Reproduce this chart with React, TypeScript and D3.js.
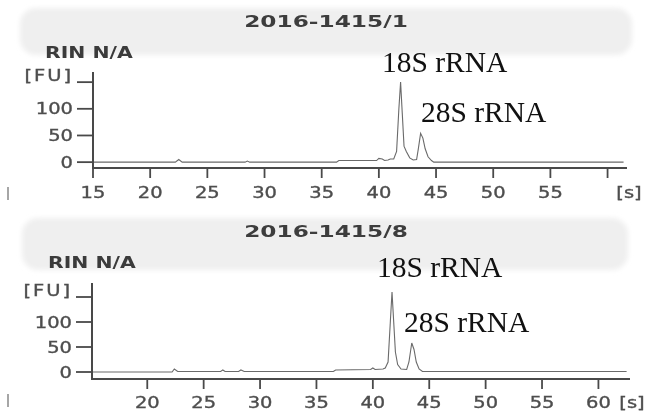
import React from "react";
import * as d3 from "d3";

// ---- data ----
const topTitle = "2016-1415/1";
const bottomTitle = "2016-1415/8";
const rinLabel = "RIN N/A";
const peakLabels = ["18S rRNA", "28S rRNA"];

const topTime = [15, 22.2, 22.5, 22.8, 28.3, 28.5, 28.7, 36.3, 36.5, 39.8, 40.0, 40.3, 40.5, 40.8, 41.0, 41.3, 41.55, 41.75, 41.9, 42.05, 42.2, 42.4, 42.7, 43.0, 43.3, 43.45, 43.65, 43.85, 44.05, 44.3, 44.6, 44.8, 61.4];
const topFU = [0, 0, 5, 0, 0, 2, 0, 0, 3, 3, 7, 6, 3, 4, 6, 6, 20, 100, 150, 90, 30, 20, 8, 4, 5, 25, 54, 45, 25, 10, 3, 0, 0];

const bottomTime = [15.1, 22.2, 22.4, 22.7, 26.5, 26.7, 26.9, 28.1, 28.3, 28.6, 36.5, 36.7, 39.8, 40.0, 40.2, 40.9, 41.1, 41.35, 41.55, 41.7, 41.85, 42.0, 42.2, 42.5, 43.0, 43.2, 43.45, 43.65, 43.85, 44.1, 44.4, 62.5];
const bottomFU = [0, 0, 6, 1, 1, 4, 1, 1, 4, 1, 1, 4, 5, 8, 5, 6, 8, 20, 100, 160, 100, 40, 15, 6, 5, 20, 58, 45, 20, 6, 1, 1];

const topXTicks = [15, 20, 25, 30, 35, 40, 45, 50, 55, 60];
const topXLabels = ["15", "20", "25", "30", "35", "40", "45", "50", "55", ""];
const bottomXTicks = [20, 25, 30, 35, 40, 45, 50, 55, 60];
const bottomXLabels = ["20", "25", "30", "35", "40", "45", "50", "55", "60"];
const yTicks = [0, 50, 100, 150];
const yLabels = ["0", "50", "100", "[FU]"];
const xUnit = "[s]";

const panels = [
  {
    title: topTitle, time: topTime, fu: topFU, xTicks: topXTicks, xLabels: topXLabels,
    xDomain: [15, 61.7], xRange: [93, 627], yDomain: [-11, 169], yRange: [168, 72],
    band: { x: 20, y: 8, w: 612, h: 47 }, titleY: 27, rinX: 45, rinY: 58,
    unitX: 629, tickLabY: 198, mark: [187, 200],
    l18: [382, 72], l28: [421, 122],
  },
  {
    title: bottomTitle, time: bottomTime, fu: bottomFU, xTicks: bottomXTicks, xLabels: bottomXLabels,
    xDomain: [15.1, 62.8], xRange: [92, 630], yDomain: [-14, 178], yRange: [379, 283],
    band: { x: 22, y: 218, w: 606, h: 52 }, titleY: 237, rinX: 48, rinY: 268,
    unitX: 632, tickLabY: 408, mark: [394, 407],
    l18: [377, 277], l28: [404, 332],
  },
];

const sans = "'DejaVu Sans', Verdana, sans-serif";
const axisColor = "#4a4a4a";
const labColor = "#4e4e4e";

function Panel({ p }: { p: any }) {
  const x = d3.scaleLinear().domain(p.xDomain).range(p.xRange);
  const y = d3.scaleLinear().domain(p.yDomain).range(p.yRange);
  const pts: [number, number][] = p.time.map((t: number, i: number) => [t, p.fu[i]]);
  const line = d3.line<[number, number]>().x((d) => x(d[0])).y((d) => y(d[1]));
  const x0 = p.xRange[0];
  const xEnd = p.xRange[1];
  const yBot = p.yRange[0];
  const yTop = p.yRange[1];
  return (
    <g>
      <rect x={p.band.x} y={p.band.y} width={p.band.w} height={p.band.h} rx={16} fill="#efefef" filter="url(#bandBlur)" />
      <g filter="url(#soft)">
        <text x={0} y={0} transform={`translate(326,${p.titleY}) scale(1.5,1)`} textAnchor="middle" fontFamily={sans} fontWeight="bold" fontSize={15.5} fill="#3c3c3c">{p.title}</text>
        <text x={0} y={0} transform={`translate(${p.rinX},${p.rinY}) scale(1.36,1)`} fontFamily={sans} fontWeight="bold" fontSize={15} fill="#3a3a3a">{rinLabel}</text>
        {/* trace */}
        <path d={line(pts) || ""} fill="none" stroke="#6a6a6a" strokeWidth={1.1} />
        {/* axes */}
        <line x1={x0} x2={x0} y1={yBot} y2={yTop} stroke={axisColor} strokeWidth={2} />
        <line x1={x0 - 1} x2={xEnd} y1={yBot} y2={yBot} stroke={axisColor} strokeWidth={2} />
        {yTicks.map((v, i) => (
          <g key={"y" + v}>
            <line x1={x0 - 16} x2={x0} y1={y(v)} y2={y(v)} stroke={axisColor} strokeWidth={1.8} />
            <text x={0} y={0} transform={`translate(${x0 - 20},${i === 3 ? y(v) - 1 : y(v) + 5.5}) scale(1.3,1)`} textAnchor="end" fontFamily={sans} fontSize={15} fill={labColor} stroke={labColor} strokeWidth={0.35} letterSpacing={i === 3 ? 1.5 : 0}>{yLabels[i]}</text>
          </g>
        ))}
        {p.xTicks.map((v: number, i: number) => (
          <g key={"x" + v}>
            <line x1={x(v)} x2={x(v)} y1={yBot} y2={yBot + 10} stroke={axisColor} strokeWidth={1.8} />
            <text x={0} y={0} transform={`translate(${x(v)},${p.tickLabY}) scale(1.3,1)`} textAnchor="middle" fontFamily={sans} fontSize={15} fill={labColor} stroke={labColor} strokeWidth={0.35}>{p.xLabels[i]}</text>
          </g>
        ))}
        <text x={0} y={0} transform={`translate(${p.unitX},${p.tickLabY}) scale(1.3,1)`} textAnchor="middle" fontFamily={sans} fontSize={15} fill={labColor} stroke={labColor} strokeWidth={0.35}>{xUnit}</text>
        <line x1={8} x2={8} y1={p.mark[0]} y2={p.mark[1]} stroke="#888" strokeWidth={1.5} />
      </g>
      <text x={p.l18[0]} y={p.l18[1]} fontFamily="'Liberation Serif', 'Times New Roman', serif" fontSize={29.5} fill="#111">{peakLabels[0]}</text>
      <text x={p.l28[0]} y={p.l28[1]} fontFamily="'Liberation Serif', 'Times New Roman', serif" fontSize={29.5} fill="#111">{peakLabels[1]}</text>
    </g>
  );
}

export default function App() {
  return (
    <svg width={645} height={416} style={{ position: "absolute", left: 0, top: 0, background: "#fff" }}>
      <defs>
        <filter id="bandBlur" x="-5%" y="-30%" width="110%" height="160%">
          <feGaussianBlur stdDeviation={2.5} />
        </filter>
        <filter id="soft" x="-5%" y="-5%" width="110%" height="110%">
          <feGaussianBlur stdDeviation={0.45} />
        </filter>
      </defs>
      <rect x={0} y={0} width={645} height={416} fill="#fff" />
      {panels.map((p, i) => (
        <Panel key={i} p={p} />
      ))}
    </svg>
  );
}
